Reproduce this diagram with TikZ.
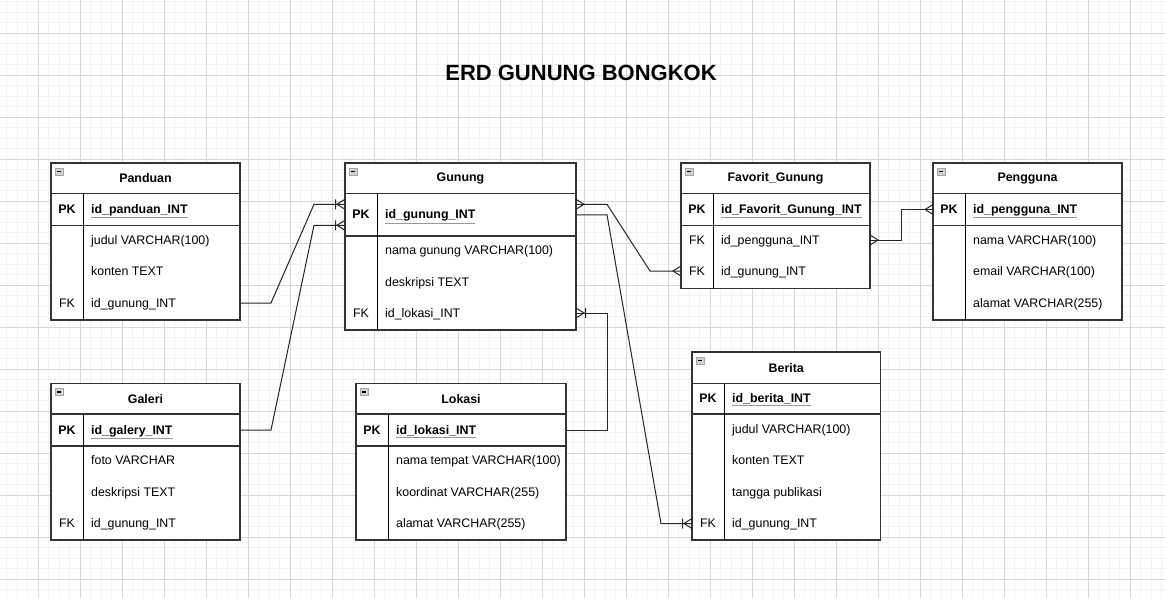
\documentclass[tikz,border=0pt]{standalone}
\usepackage{fontspec}
\setmainfont{Liberation Sans}
\usetikzlibrary{positioning}

\definecolor{tcol}{HTML}{333333}
\newcommand{\erdfont}{\fontsize{12.4}{15}\selectfont}
\newcommand{\pkname}[1]{\textcolor{gray!80}{\underline{\textcolor{black}{#1}}}}

% crow's foot ends
\pgfdeclarearrow{
  name=crow,
  setup code={
    \pgfarrowssettipend{0pt}
    \pgfarrowssetlineend{0pt}
    \pgfarrowssetbackend{-8pt}
    \pgfarrowshullpoint{0pt}{5pt}
    \pgfarrowshullpoint{0pt}{-5pt}
    \pgfarrowshullpoint{-8pt}{0pt}
  },
  drawing code={
    \pgfpathmoveto{\pgfpoint{0pt}{5pt}}
    \pgfpathlineto{\pgfpoint{-8pt}{0pt}}
    \pgfpathlineto{\pgfpoint{0pt}{-5pt}}
    \pgfusepathqstroke
  }
}
\pgfdeclarearrow{
  name=crowbar,
  setup code={
    \pgfarrowssettipend{0pt}
    \pgfarrowssetlineend{0pt}
    \pgfarrowssetbackend{-10pt}
    \pgfarrowshullpoint{0pt}{5pt}
    \pgfarrowshullpoint{0pt}{-5pt}
    \pgfarrowshullpoint{-10pt}{5pt}
    \pgfarrowshullpoint{-10pt}{-5pt}
  },
  drawing code={
    \pgfpathmoveto{\pgfpoint{0pt}{5pt}}
    \pgfpathlineto{\pgfpoint{-8pt}{0pt}}
    \pgfpathlineto{\pgfpoint{0pt}{-5pt}}
    \pgfpathmoveto{\pgfpoint{-9.5pt}{5pt}}
    \pgfpathlineto{\pgfpoint{-9.5pt}{-5pt}}
    \pgfusepathqstroke
  }
}

\begin{document}
\begin{tikzpicture}[
  x=1pt, y=-1pt,
  font=\erdfont,
  minorgrid/.style={gray!10, line width=0.8pt},
  majorgrid/.style={gray!32, line width=1pt},
  hdr/.style={draw=tcol, fill=white, line width=1.2pt, anchor=north west, inner sep=0, outer sep=0, font=\erdfont\bfseries},
  trow/.style={draw=tcol, fill=white, line width=1.2pt, inner sep=0, outer sep=0},
  divline/.style={black, line width=0.9pt},
  icon/.style={draw=gray!70, fill=gray!35, line width=0.6pt, minimum width=7.5pt, minimum height=7pt, inner sep=0,
    path picture={\draw[black, line width=1.2pt] ([xshift=1.6pt]path picture bounding box.west) -- ([xshift=-1.6pt]path picture bounding box.east);}},
  key/.style={inner sep=0, text height=10pt, text depth=2pt},
  pkkey/.style={key, font=\erdfont\bfseries},
  field/.style={key, anchor=west},
  pkfield/.style={field, font=\erdfont\bfseries},
  rel/.style={black!85, line width=1pt}
]

\useasboundingbox (0,0) rectangle (1165,598);
\fill[white] (0,0) rectangle (1165,598);

% grid
\foreach \k in {0,...,111} \draw[minorgrid] ({-3.7+10.5*\k},0) -- ++(0,598);
\foreach \k in {0,...,56} \draw[minorgrid] (0,{1.8+10.5*\k}) -- ++(1165,0);
\foreach \k in {0,...,28} \draw[majorgrid] ({-3.7+42*\k},0) -- ++(0,598);
\foreach \k in {0,...,14} \draw[majorgrid] (0,{-8.7+42*\k}) -- ++(1165,0);

% title
\node[font=\bfseries\fontsize{22}{26}\selectfont] (title) at (581,73) {ERD GUNUNG BONGKOK};

% Panduan
\node[hdr, minimum width=189, minimum height=30.5] (panduan) at (51,163) {Panduan};
\node[trow, minimum width=189, minimum height=32, below=0pt of panduan] (panduan-pk) {};
\node[trow, minimum width=189, minimum height=94.5, below=0pt of panduan-pk] (panduan-body) {};
\draw[divline] ([xshift=32pt]panduan-pk.north west) -- ([xshift=32pt]panduan-body.south west);
\node[icon] (panduan-ic) at ([xshift=8.3pt,yshift=-8.4pt]panduan.north west) {};
\node[pkkey] (panduan-pkk) at (67,209.5) {PK};
\node[pkfield] (panduan-id) at (91,209.5) {\pkname{id\_panduan\_INT}};
\node[field] (panduan-judul) at (91,240) {judul VARCHAR(100)};
\node[field] (panduan-konten) at (91,271) {konten TEXT};
\node[key] (panduan-fkk) at (67,303) {FK};
\node[field] (panduan-idg) at (91,303) {id\_gunung\_INT};

% Gunung
\node[hdr, minimum width=231, minimum height=30.5] (gunung) at (345,163) {Gunung};
\node[trow, minimum width=231, minimum height=42.5, below=0pt of gunung] (gunung-pk) {};
\node[trow, minimum width=231, minimum height=94, below=0pt of gunung-pk] (gunung-body) {};
\draw[divline] ([xshift=32pt]gunung-pk.north west) -- ([xshift=32pt]gunung-body.south west);
\node[icon] (gunung-ic) at ([xshift=8.3pt,yshift=-8.4pt]gunung.north west) {};
\node[pkkey] (gunung-pkk) at (361,214.75) {PK};
\node[pkfield] (gunung-id) at (385,214.75) {\pkname{id\_gunung\_INT}};
\node[field] (gunung-nama) at (385,250) {nama gunung VARCHAR(100)};
\node[field] (gunung-desk) at (385,282) {deskripsi TEXT};
\node[key] (gunung-fkk) at (361,313) {FK};
\node[field] (gunung-idl) at (385,313) {id\_lokasi\_INT};

% Favorit_Gunung
\node[hdr, minimum width=189, minimum height=30.5] (favorit) at (681,163) {Favorit\_Gunung};
\node[trow, minimum width=189, minimum height=32, below=0pt of favorit] (favorit-pk) {};
\node[trow, minimum width=189, minimum height=63, below=0pt of favorit-pk] (favorit-body) {};
\draw[divline] ([xshift=32pt]favorit-pk.north west) -- ([xshift=32pt]favorit-body.south west);
\node[icon] (favorit-ic) at ([xshift=8.3pt,yshift=-8.4pt]favorit.north west) {};
\node[pkkey] (favorit-pkk) at (697,209.5) {PK};
\node[pkfield] (favorit-id) at (721,209.5) {\pkname{id\_Favorit\_Gunung\_INT}};
\node[key] (favorit-fk1) at (697,240) {FK};
\node[field] (favorit-idp) at (721,240) {id\_pengguna\_INT};
\node[key] (favorit-fk2) at (697,271) {FK};
\node[field] (favorit-idg) at (721,271) {id\_gunung\_INT};

% Pengguna
\node[hdr, minimum width=189, minimum height=30.5] (pengguna) at (933,163) {Pengguna};
\node[trow, minimum width=189, minimum height=32, below=0pt of pengguna] (pengguna-pk) {};
\node[trow, minimum width=189, minimum height=94.5, below=0pt of pengguna-pk] (pengguna-body) {};
\draw[divline] ([xshift=32pt]pengguna-pk.north west) -- ([xshift=32pt]pengguna-body.south west);
\node[icon] (pengguna-ic) at ([xshift=8.3pt,yshift=-8.4pt]pengguna.north west) {};
\node[pkkey] (pengguna-pkk) at (949,209.5) {PK};
\node[pkfield] (pengguna-id) at (973,209.5) {\pkname{id\_pengguna\_INT}};
\node[field] (pengguna-nama) at (973,240) {nama VARCHAR(100)};
\node[field] (pengguna-email) at (973,271) {email VARCHAR(100)};
\node[field] (pengguna-alamat) at (973,303) {alamat VARCHAR(255)};

% Galeri
\node[hdr, minimum width=189, minimum height=30.5] (galeri) at (51,383.5) {Galeri};
\node[trow, minimum width=189, minimum height=32, below=0pt of galeri] (galeri-pk) {};
\node[trow, minimum width=189, minimum height=94, below=0pt of galeri-pk] (galeri-body) {};
\draw[divline] ([xshift=32pt]galeri-pk.north west) -- ([xshift=32pt]galeri-body.south west);
\node[icon] (galeri-ic) at ([xshift=8.3pt,yshift=-8.4pt]galeri.north west) {};
\node[pkkey] (galeri-pkk) at (67,430) {PK};
\node[pkfield] (galeri-id) at (91,430) {\pkname{id\_galery\_INT}};
\node[field] (galeri-foto) at (91,460.5) {foto VARCHAR};
\node[field] (galeri-desk) at (91,492) {deskripsi TEXT};
\node[key] (galeri-fkk) at (67,523.5) {FK};
\node[field] (galeri-idg) at (91,523.5) {id\_gunung\_INT};

% Lokasi
\node[hdr, minimum width=210, minimum height=30.5] (lokasi) at (356,383.5) {Lokasi};
\node[trow, minimum width=210, minimum height=32, below=0pt of lokasi] (lokasi-pk) {};
\node[trow, minimum width=210, minimum height=94, below=0pt of lokasi-pk] (lokasi-body) {};
\draw[divline] ([xshift=32pt]lokasi-pk.north west) -- ([xshift=32pt]lokasi-body.south west);
\node[icon] (lokasi-ic) at ([xshift=8.3pt,yshift=-8.4pt]lokasi.north west) {};
\node[pkkey] (lokasi-pkk) at (372,430) {PK};
\node[pkfield] (lokasi-id) at (396,430) {\pkname{id\_lokasi\_INT}};
\node[field] (lokasi-nama) at (396,460.5) {nama tempat VARCHAR(100)};
\node[field] (lokasi-koor) at (396,492) {koordinat VARCHAR(255)};
\node[field] (lokasi-alamat) at (396,523.5) {alamat VARCHAR(255)};

% Berita
\node[hdr, minimum width=188.5, minimum height=31.5] (berita) at (692,352) {Berita};
\node[trow, minimum width=188.5, minimum height=30.5, below=0pt of berita] (berita-pk) {};
\node[trow, minimum width=188.5, minimum height=126, below=0pt of berita-pk] (berita-body) {};
\draw[divline] ([xshift=32pt]berita-pk.north west) -- ([xshift=32pt]berita-body.south west);
\node[icon] (berita-ic) at ([xshift=8.3pt,yshift=-8.4pt]berita.north west) {};
\node[pkkey] (berita-pkk) at (708,398.75) {PK};
\node[pkfield] (berita-id) at (732,398.75) {\pkname{id\_berita\_INT}};
\node[field] (berita-judul) at (732,429.5) {judul VARCHAR(100)};
\node[field] (berita-konten) at (732,460.5) {konten TEXT};
\node[field] (berita-tgl) at (732,492) {tangga publikasi};
\node[key] (berita-fkk) at (708,523.5) {FK};
\node[field] (berita-idg) at (732,523.5) {id\_gunung\_INT};

% relation ends on Gunung
\coordinate (g-in1) at ([yshift=10.5pt]gunung-pk.west);
\coordinate (g-in2) at ([yshift=-10.5pt]gunung-pk.west);
\coordinate (g-out1) at ([yshift=10.5pt]gunung-pk.east);

% relations
\draw[rel, -crowbar] (panduan-body.east |- panduan-idg) -- ++(31,0) -- ([xshift=-31pt]g-in1) -- (g-in1);
\draw[rel, -crowbar] (galeri-pk.east |- galeri-id) -- ++(31,0) -- ([xshift=-31pt]g-in2) -- (g-in2);
\draw[rel, crow-crow] (g-out1) -- ++(31,0) -- ([xshift=-31pt]favorit-body.west |- favorit-idg) -- (favorit-body.west |- favorit-idg);
\draw[rel, -crowbar] (gunung-pk.east) -- ++(31,0) -- ([xshift=-31pt]berita-body.west |- berita-idg) -- (berita-body.west |- berita-idg);
\draw[rel, -crowbar] (lokasi-pk.east |- lokasi-id) -- ++(41,0) |- (gunung-body.east |- gunung-idl);
\draw[rel, crow-crow] (favorit-body.east |- favorit-idp) -- ++(31,0) |- (pengguna-pk.west);

\end{tikzpicture}
\end{document}
